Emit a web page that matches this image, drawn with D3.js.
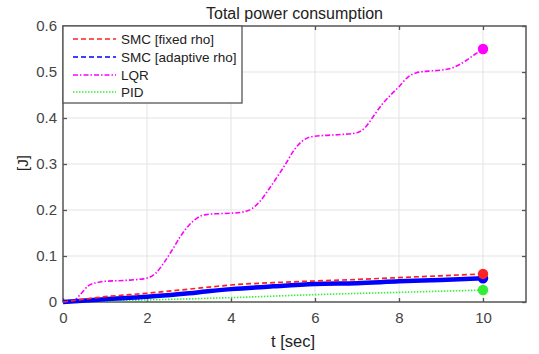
<!DOCTYPE html>
<html><head><meta charset="utf-8">
<script src="https://cdn.jsdelivr.net/npm/d3@7"></script>
<style>body{margin:0;background:#fff}svg{display:block;font-family:"Liberation Sans",Arial,sans-serif}</style>
</head><body>
<svg id="c" width="539" height="354"></svg>
<script>
const xTicks=[0,2,4,6,8,10];
const yTicks=[0,0.1,0.2,0.3,0.4,0.5,0.6];
const seriesNames=["SMC [fixed rho]","SMC [adaptive rho]","LQR","PID"];
const tFixed=[0,1,2,3,3.55,4,5,6,7,8,9,10];
const vFixed=[0,0.0115,0.019,0.028,0.033,0.037,0.042,0.0457,0.049,0.053,0.057,0.061];
const tAdapt=[0,1,2,3,3.5,4,5,6,7,8,9,10];
const vAdapt=[0,0.006,0.0115,0.019,0.024,0.028,0.034,0.039,0.041,0.045,0.048,0.0515];
const tLQR=[0,0.2,0.4,0.6,0.8,1.0,1.5,2.0,2.2,2.4,2.6,2.8,3.0,3.2,3.4,3.7,4.0,4.3,4.5,4.7,4.9,5.1,5.3,5.5,5.7,5.9,6.2,6.6,7.0,7.2,7.4,7.6,7.8,8.0,8.2,8.4,8.7,9.0,9.3,9.6,9.8,10];
const vLQR=[0,0,0.015,0.035,0.042,0.045,0.047,0.052,0.062,0.085,0.113,0.143,0.167,0.183,0.19,0.192,0.193,0.196,0.203,0.22,0.245,0.272,0.3,0.33,0.35,0.359,0.362,0.364,0.368,0.38,0.405,0.43,0.45,0.468,0.488,0.498,0.502,0.504,0.51,0.525,0.538,0.55];
const tPID=[0,2,4,6,8,10];
const vPID=[0,0.0045,0.0095,0.016,0.021,0.026];

const svg=d3.select("#c");
const L=63,R=526,T=26,B=302;
const x=d3.scaleLinear().domain([0,11]).range([L,L+11*42]);
const y=d3.scaleLinear().domain([0,0.6]).range([B,T]);
const axisCol="#555";

svg.append("g").selectAll("line").data(xTicks.filter(d=>d>0)).join("line")
 .attr("x1",d=>x(d)).attr("x2",d=>x(d)).attr("y1",T).attr("y2",B).attr("stroke","#e3e3e3").attr("stroke-width",1);
svg.append("g").selectAll("line").data(yTicks.filter(d=>d>0&&d<0.6)).join("line")
 .attr("y1",d=>y(d)).attr("y2",d=>y(d)).attr("x1",L).attr("x2",R).attr("stroke","#e3e3e3").attr("stroke-width",1);

const fmt=d=>d===0?"0":String(d);
const gx=svg.append("g").attr("transform",`translate(0,${B})`).call(d3.axisBottom(x).tickValues(xTicks).tickSize(-4).tickPadding(10).tickFormat(fmt));
const gxt=svg.append("g").attr("transform",`translate(0,${T})`).call(d3.axisTop(x).tickValues(xTicks).tickSize(-4).tickFormat(""));
const gy=svg.append("g").attr("transform",`translate(${L},0)`).call(d3.axisLeft(y).tickValues(yTicks).tickSize(-4).tickPadding(6).tickFormat(fmt));
const gyr=svg.append("g").attr("transform",`translate(${R},0)`).call(d3.axisRight(y).tickValues(yTicks).tickSize(-4).tickFormat(""));
[gx,gxt,gy,gyr].forEach(g=>{g.select(".domain").remove();g.selectAll(".tick line").attr("stroke",axisCol).attr("stroke-width",1.3);
 g.selectAll("text").attr("fill","#444").style("font-size","15px").style("font-family","Liberation Sans, Arial, sans-serif");});
svg.append("rect").attr("x",L).attr("y",T).attr("width",R-L).attr("height",B-T).attr("fill","none").attr("stroke",axisCol).attr("stroke-width",1.5);

const line=d3.line().x(d=>x(d[0])).y(d=>y(d[1])).curve(d3.curveMonotoneX);
const zip=(a,b)=>a.map((t,i)=>[t,b[i]]);
const series=[
 {t:tPID,v:vPID,c:"#33ee33",w:1.6,dash:"1.5,1.5"},
 {t:tLQR,v:vLQR,c:"#ff00ff",w:1.6,dash:"5,2,1.5,2"},
 {t:tAdapt,v:vAdapt,c:"#0000ff",w:4.5,dash:null},
 {t:tFixed,v:vFixed,c:"#ff2222",w:1.7,dash:"5,3"}
];
series.forEach(s=>{
 svg.append("path").attr("d",line(zip(s.t,s.v))).attr("fill","none").attr("stroke",s.c).attr("stroke-width",s.w)
  .attr("stroke-dasharray",s.dash);
});
series.forEach(s=>{
 const n=s.t.length-1;
 svg.append("circle").attr("cx",x(s.t[n])).attr("cy",y(s.v[n])).attr("r",5.2).attr("fill",s.c);
});

svg.append("text").attr("x",(L+R)/2).attr("y",19).attr("text-anchor","middle").style("font-size","16px").attr("fill","#222").text("Total power consumption");
svg.append("text").attr("x",293).attr("y",347).attr("text-anchor","middle").style("font-size","16.5px").attr("fill","#222").text("t [sec]");
svg.append("text").attr("transform","translate(28,163) rotate(-90)").attr("text-anchor","middle").style("font-size","15px").attr("fill","#222").text("[J]");

const lg=svg.append("g");
lg.append("rect").attr("x",L).attr("y",T).attr("width",179).attr("height",77).attr("fill","#fff").attr("stroke",axisCol).attr("stroke-width",1.3);
const legStyles=[
 {c:"#ff2222",dash:"5,3",w:1.7},{c:"#0000ff",dash:"5,3",w:1.7},{c:"#ff00ff",dash:"5,2,1.5,2",w:1.6},{c:"#33ee33",dash:"1.5,1.5",w:1.6}];
const rows=[39,57,75,92];
seriesNames.forEach((n,i)=>{
 lg.append("line").attr("x1",73).attr("x2",116).attr("y1",rows[i]).attr("y2",rows[i]).attr("stroke",legStyles[i].c).attr("stroke-width",legStyles[i].w).attr("stroke-dasharray",legStyles[i].dash);
 lg.append("text").attr("x",121).attr("y",rows[i]+5).style("font-size","13.5px").attr("fill","#222").text(n);
});
</script>
</body></html>
